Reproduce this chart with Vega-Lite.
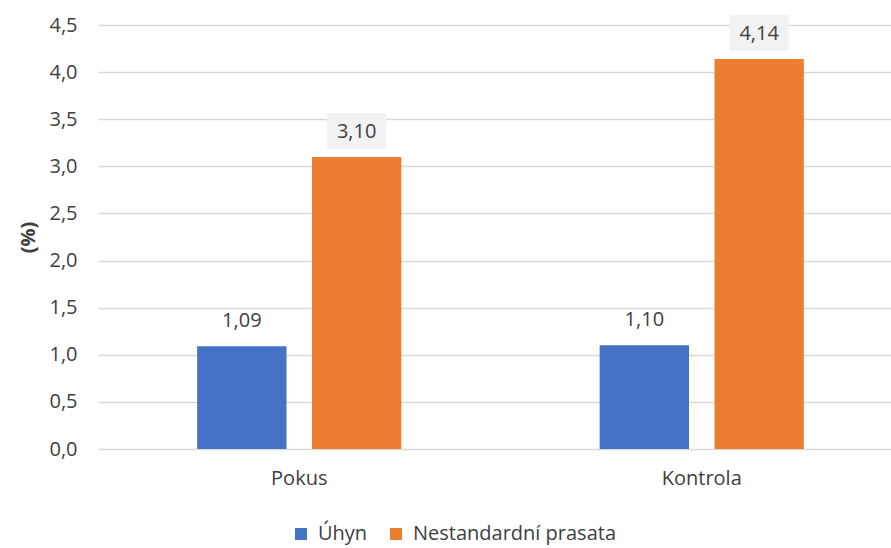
{
  "$schema": "https://vega.github.io/schema/vega-lite/v6.json",
  "width": 793,
  "height": 424,
  "autosize": {"type": "none"},
  "padding": {"left": 98, "top": 25, "right": 0, "bottom": 99},
  "background": "white",
  "config": {
    "locale": {"number": {"decimal": ",", "thousands": " ", "grouping": [3], "currency": ["", " Kč"]}},
    "font": "Open Sans",
    "view": {"stroke": null}
  },
  "data": {
    "values": [
      {"group": "Pokus", "series": "Úhyn", "value": 1.09},
      {"group": "Pokus", "series": "Nestandardní prasata", "value": 3.10},
      {"group": "Kontrola", "series": "Úhyn", "value": 1.10},
      {"group": "Kontrola", "series": "Nestandardní prasata", "value": 4.14}
    ]
  },
  "encoding": {
    "x": {
      "field": "group",
      "type": "nominal",
      "sort": ["Pokus", "Kontrola"],
      "scale": {"range": [0, 805], "paddingInner": 0, "paddingOuter": 0},
      "axis": {
        "title": null,
        "labelAngle": 0,
        "ticks": false,
        "domain": false,
        "grid": false,
        "labelFontSize": 20,
        "labelColor": "#404040",
        "labelPadding": 19
      }
    },
    "xOffset": {
      "field": "series",
      "type": "nominal",
      "sort": ["Úhyn", "Nestandardní prasata"],
      "scale": {"paddingInner": 0.222, "paddingOuter": 0.8635}
    },
    "y": {
      "field": "value",
      "type": "quantitative",
      "scale": {"domain": [0, 4.5], "nice": false},
      "axis": {
        "values": [0, 0.5, 1, 1.5, 2, 2.5, 3, 3.5, 4, 4.5],
        "format": ".1f",
        "title": "(%)",
        "titleFontSize": 20,
        "titleFontWeight": "bold",
        "titleColor": "#404040",
        "titlePadding": 10,
        "labelFontSize": 20,
        "labelColor": "#404040",
        "labelPadding": 21,
        "ticks": false,
        "domain": false,
        "gridColor": "#d9d9d9",
        "gridWidth": 1.3
      }
    }
  },
  "layer": [
    {
      "mark": {"type": "bar"},
      "encoding": {
        "color": {
          "field": "series",
          "type": "nominal",
          "sort": ["Úhyn", "Nestandardní prasata"],
          "scale": {"domain": ["Úhyn", "Nestandardní prasata"], "range": ["#4472C4", "#ED7D31"]},
          "legend": {
            "title": null,
            "orient": "none",
            "legendX": 193,
            "legendY": 499,
            "direction": "horizontal",
            "symbolType": "square",
            "symbolSize": 144,
            "symbolStrokeWidth": 0,
            "labelFontSize": 20,
            "labelColor": "#404040",
            "labelOffset": 7,
            "labelLimit": 0,
            "columnPadding": 18,
            "padding": 0
          }
        }
      }
    },
    {
      "transform": [{"filter": "datum.series == 'Nestandardní prasata'"}],
      "mark": {
        "type": "point",
        "shape": "M-1,-0.61L1,-0.61L1,0.61L-1,0.61Z",
        "size": 3481,
        "filled": true,
        "color": "#f2f2f2",
        "opacity": 1,
        "yOffset": -26
      }
    },
    {
      "mark": {
        "type": "text",
        "fontSize": 20,
        "color": "#404040",
        "baseline": "middle",
        "dy": -25
      },
      "encoding": {
        "text": {"field": "value", "type": "quantitative", "format": ".2f"}
      }
    }
  ]
}
